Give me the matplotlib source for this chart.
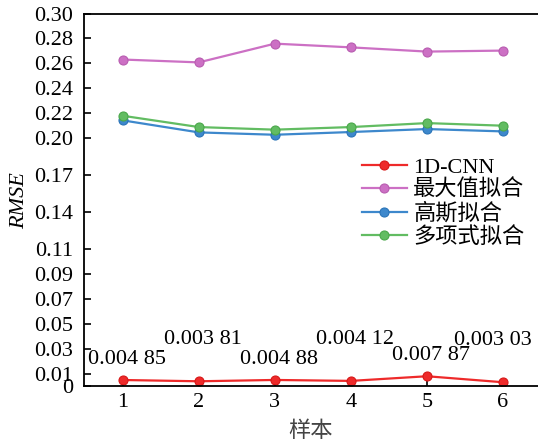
import matplotlib
matplotlib.use("Agg")
import matplotlib.pyplot as plt

plt.rcParams['font.family'] = ['Liberation Serif', 'Noto Sans CJK SC', 'DejaVu Sans']
plt.rcParams['font.size'] = 16

samples = [1, 2, 3, 4, 5, 6]
cnn = [0.00485, 0.00381, 0.00488, 0.00412, 0.00787, 0.00303]
max_fit = [0.263, 0.2607, 0.2758, 0.2728, 0.2694, 0.2702]
gauss_fit = [0.214, 0.2043, 0.2024, 0.2046, 0.207, 0.2051]
poly_fit = [0.2177, 0.2086, 0.2065, 0.2086, 0.2118, 0.2097]
cnn_labels = ["0.004 85", "0.003 81", "0.004 88", "0.004 12", "0.007 87", "0.003 03"]
yticks = [0, 0.01, 0.03, 0.05, 0.07, 0.09, 0.11, 0.14, 0.17, 0.20,
          0.22, 0.24, 0.26, 0.28, 0.30]
ytick_labels = ["0", "0.01", "0.03", "0.05", "0.07", "0.09", "0.11", "0.14",
                "0.17", "0.20", "0.22", "0.24", "0.26", "0.28", "0.30"]

fig = plt.figure(figsize=(5.38, 4.46), dpi=100)
ax = fig.add_axes([0.156, 0.1345, 0.844, 0.835])

style = dict(lw=1.6, marker='o', ms=6.5, mew=0.8)
ax.plot(samples, cnn, color='#ee2a2a', mec='#d81818', label='1D-CNN', **style)
ax.plot(samples, max_fit, color='#cc70c4', mec='#b85cb0', label='最大值拟合', **style)
ax.plot(samples, gauss_fit, color='#3d88cc', mec='#2a74b8', label='高斯拟合', **style)
ax.plot(samples, poly_fit, color='#62bc62', mec='#4aa84a', label='多项式拟合', **style)

for i, (x, y, t) in enumerate(zip(samples, cnn, cnn_labels)):
    dy = 15 if i % 2 == 0 else 30
    dx = -7 if i == 5 else 3
    ax.annotate(t, (x, y), xytext=(dx, dy), textcoords='offset points',
                ha='center', va='center', fontsize=16)

ax.set_xlim(0.49, 6.46)
ax.set_ylim(0, 0.30)
ax.set_xticks(samples)
ax.set_yticks(yticks)
ax.set_yticklabels(ytick_labels)
ax.tick_params(direction='in', length=5, width=1.2, pad=5)
ax.tick_params(axis='y', pad=8)
ax.spines['right'].set_visible(False)
for s in ['left', 'bottom', 'top']:
    ax.spines[s].set_linewidth(1.3)

fig.text(0.037, 0.55, 'RMSE', rotation=90, style='italic', ha='center', va='center', fontsize=16)
fig.text(0.577, 0.032, '样本', ha='center', va='center', fontsize=16, color='#444444')

ax.legend(loc='upper left', bbox_to_anchor=(0.613, 0.615), frameon=False,
          handlelength=2.0, handletextpad=0.3, labelspacing=0.1, borderaxespad=0,
          borderpad=0, fontsize=16)

fig.savefig('out.png', dpi=100)
